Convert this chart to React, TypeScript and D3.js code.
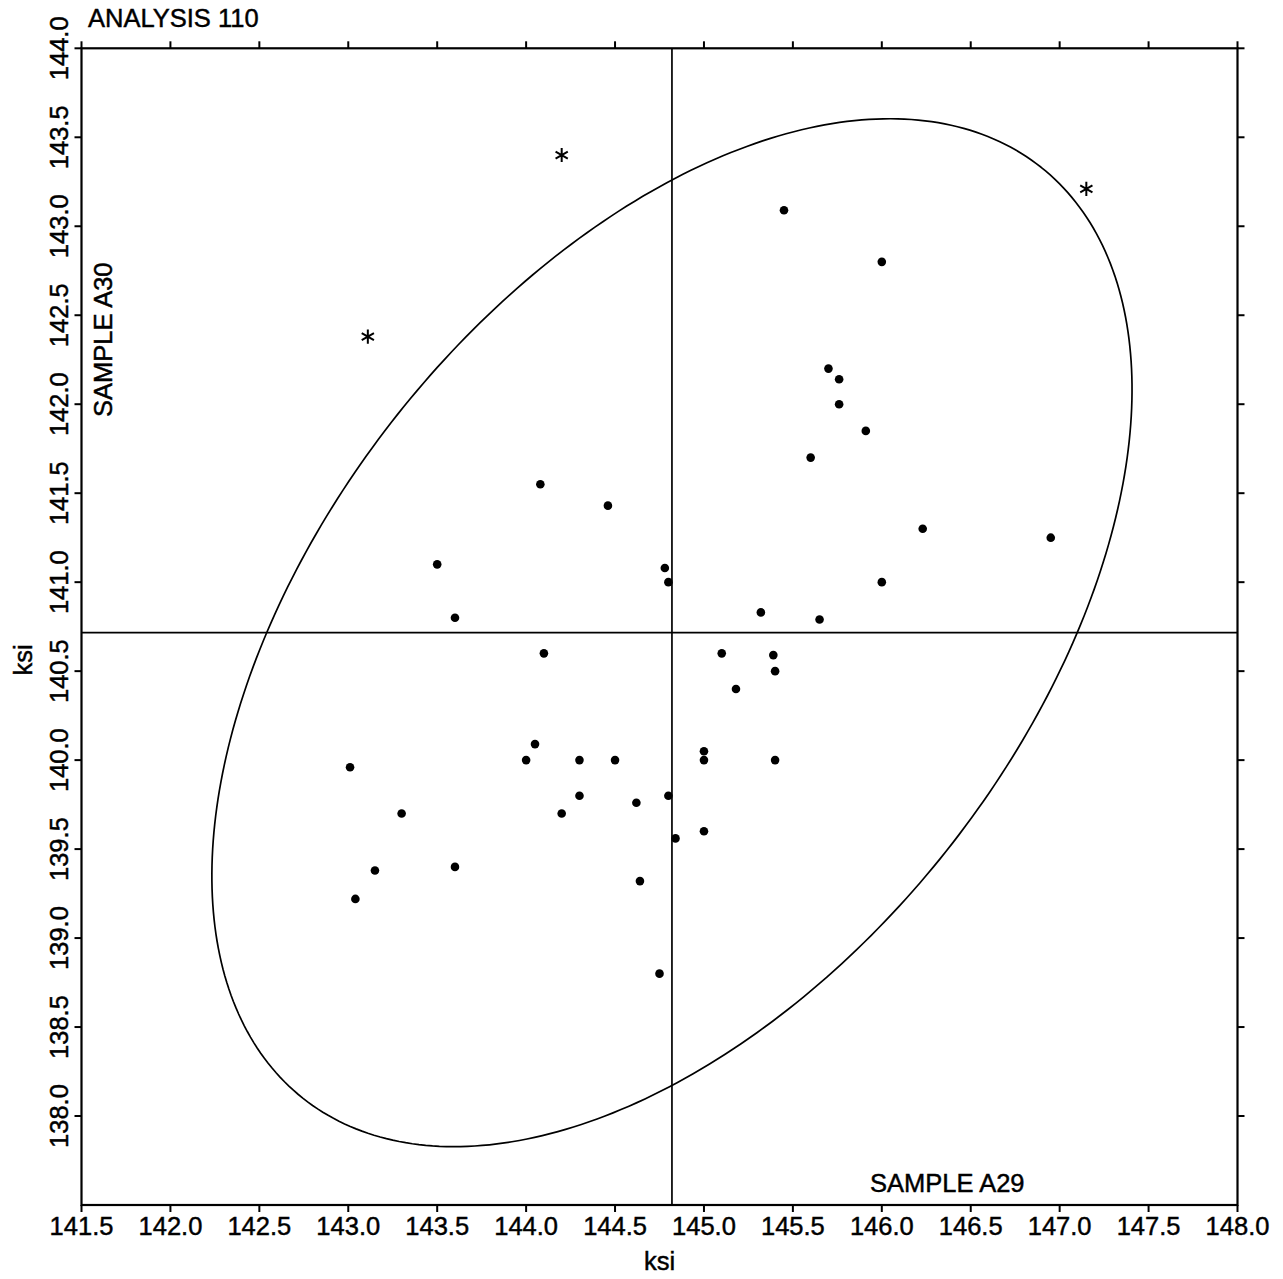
import React from "react";
import * as d3 from "d3";

// ---- data ----
const xTicks = [141.5, 142.0, 142.5, 143.0, 143.5, 144.0, 144.5, 145.0, 145.5, 146.0, 146.5, 147.0, 147.5, 148.0];
const yTicks = [138.0, 138.5, 139.0, 139.5, 140.0, 140.5, 141.0, 141.5, 142.0, 142.5, 143.0, 143.5, 144.0];

const sampleA29 = [
  145.45, 146.0, 145.7, 145.76, 145.76, 145.91, 145.6, 146.23, 146.95, 144.08, 144.46,
  143.5, 144.78, 144.8, 146.0, 143.6, 145.32, 145.65, 144.1, 145.1, 145.39, 145.4,
  145.18, 144.05, 144.0, 144.3, 144.5, 145.0, 145.0, 145.4, 143.01, 144.3, 144.8,
  144.62, 143.3, 144.2, 145.0, 144.84, 143.15, 143.6, 144.64, 143.04, 144.75,
];
const sampleA30 = [
  143.09, 142.8, 142.2, 142.14, 142.0, 141.85, 141.7, 141.3, 141.25, 141.55, 141.43,
  141.1, 141.08, 141.0, 141.0, 140.8, 140.83, 140.79, 140.6, 140.6, 140.59, 140.5,
  140.4, 140.09, 140.0, 140.0, 140.0, 140.05, 140.0, 140.0, 139.96, 139.8, 139.8,
  139.76, 139.7, 139.7, 139.6, 139.56, 139.38, 139.4, 139.32, 139.22, 138.8,
];

const outlierA29 = [144.2, 143.11, 147.15];
const outlierA30 = [143.4, 142.38, 143.21];

const meanA29 = 144.82;
const meanA30 = 140.716;

// ellipse parameters (data units)
const ellipseSemiMajor = 3.339;
const ellipseSemiMinor = 1.971;
const ellipseAngleDeg = 51.56;

const FONT = "'Liberation Sans', Arial, Helvetica, sans-serif";

export default function App() {
  const W = 1283;
  const H = 1279;
  const left = 81.5;
  const right = 1237.5;
  const top = 48.3;
  const bottom = 1205;

  const x = d3.scaleLinear().domain([141.5, 148.0]).range([left, right]);
  const y = d3.scaleLinear().domain([137.5, 144.0]).range([bottom, top]);

  const th = (ellipseAngleDeg * Math.PI) / 180;
  const ellPts: [number, number][] = d3.range(0, 361, 1).map((deg) => {
    const t = (deg * Math.PI) / 180;
    const ex = meanA29 + ellipseSemiMajor * Math.cos(th) * Math.cos(t) - ellipseSemiMinor * Math.sin(th) * Math.sin(t);
    const ey = meanA30 + ellipseSemiMajor * Math.sin(th) * Math.cos(t) + ellipseSemiMinor * Math.cos(th) * Math.sin(t);
    return [x(ex), y(ey)];
  });
  const ellPath = d3.line().curve(d3.curveLinearClosed)(ellPts) || "";

  const star = d3.symbol(d3.symbolAsterisk, 140)() || "";

  const tickLen = 7;
  const fs = 25.5;
  const textStyle = { fontSize: fs, fill: "#000", stroke: "#000", strokeWidth: 0.45 } as const;

  return (
    <div style={{ position: "absolute", left: 0, top: 0 }}>
      <svg width={W} height={H} style={{ display: "block", background: "#fff" }} fontFamily={FONT}>
        <rect x={0} y={0} width={W} height={H} fill="#fff" />
        {/* reference lines */}
        <line x1={x(meanA29)} x2={x(meanA29)} y1={top} y2={bottom} stroke="#000" strokeWidth={1.7} />
        <line x1={left} x2={right} y1={y(meanA30)} y2={y(meanA30)} stroke="#000" strokeWidth={1.7} />
        {/* ellipse */}
        <path d={ellPath} fill="none" stroke="#000" strokeWidth={1.7} />
        {/* points */}
        {sampleA29.map((v, i) => (
          <circle key={"p" + i} cx={x(v)} cy={y(sampleA30[i])} r={4.3} fill="#000" />
        ))}
        {outlierA29.map((v, i) => (
          <path key={"s" + i} d={star} transform={`translate(${x(v)},${y(outlierA30[i])})`} fill="none" stroke="#000" strokeWidth={2} />
        ))}
        {/* frame */}
        <rect x={left} y={top} width={right - left} height={bottom - top} fill="none" stroke="#000" strokeWidth={2.2} />
        {/* x ticks */}
        {xTicks.map((t) => (
          <g key={"xt" + t}>
            <line x1={x(t)} x2={x(t)} y1={bottom} y2={bottom + tickLen} stroke="#000" strokeWidth={2} />
            <line x1={x(t)} x2={x(t)} y1={top} y2={top - tickLen} stroke="#000" strokeWidth={2} />
            <text x={x(t)} y={1235} textAnchor="middle" {...textStyle}>
              {t.toFixed(1)}
            </text>
          </g>
        ))}
        {/* y ticks */}
        {yTicks.map((t) => (
          <g key={"yt" + t}>
            <line x1={left} x2={left - tickLen} y1={y(t)} y2={y(t)} stroke="#000" strokeWidth={2} />
            <line x1={right} x2={right + tickLen} y1={y(t)} y2={y(t)} stroke="#000" strokeWidth={2} />
            <text transform={`translate(68,${y(t)}) rotate(-90)`} textAnchor="middle" {...textStyle}>
              {t.toFixed(1)}
            </text>
          </g>
        ))}
        {/* titles */}
        <text x={88} y={27} {...textStyle}>ANALYSIS 110</text>
        <text x={870} y={1192} {...textStyle}>SAMPLE A29</text>
        <text transform={`translate(112,417) rotate(-90)`} {...textStyle}>SAMPLE A30</text>
        <text x={(left + right) / 2} y={1270} textAnchor="middle" {...textStyle}>ksi</text>
        <text transform={`translate(32,660) rotate(-90)`} textAnchor="middle" {...textStyle}>ksi</text>
      </svg>
    </div>
  );
}
